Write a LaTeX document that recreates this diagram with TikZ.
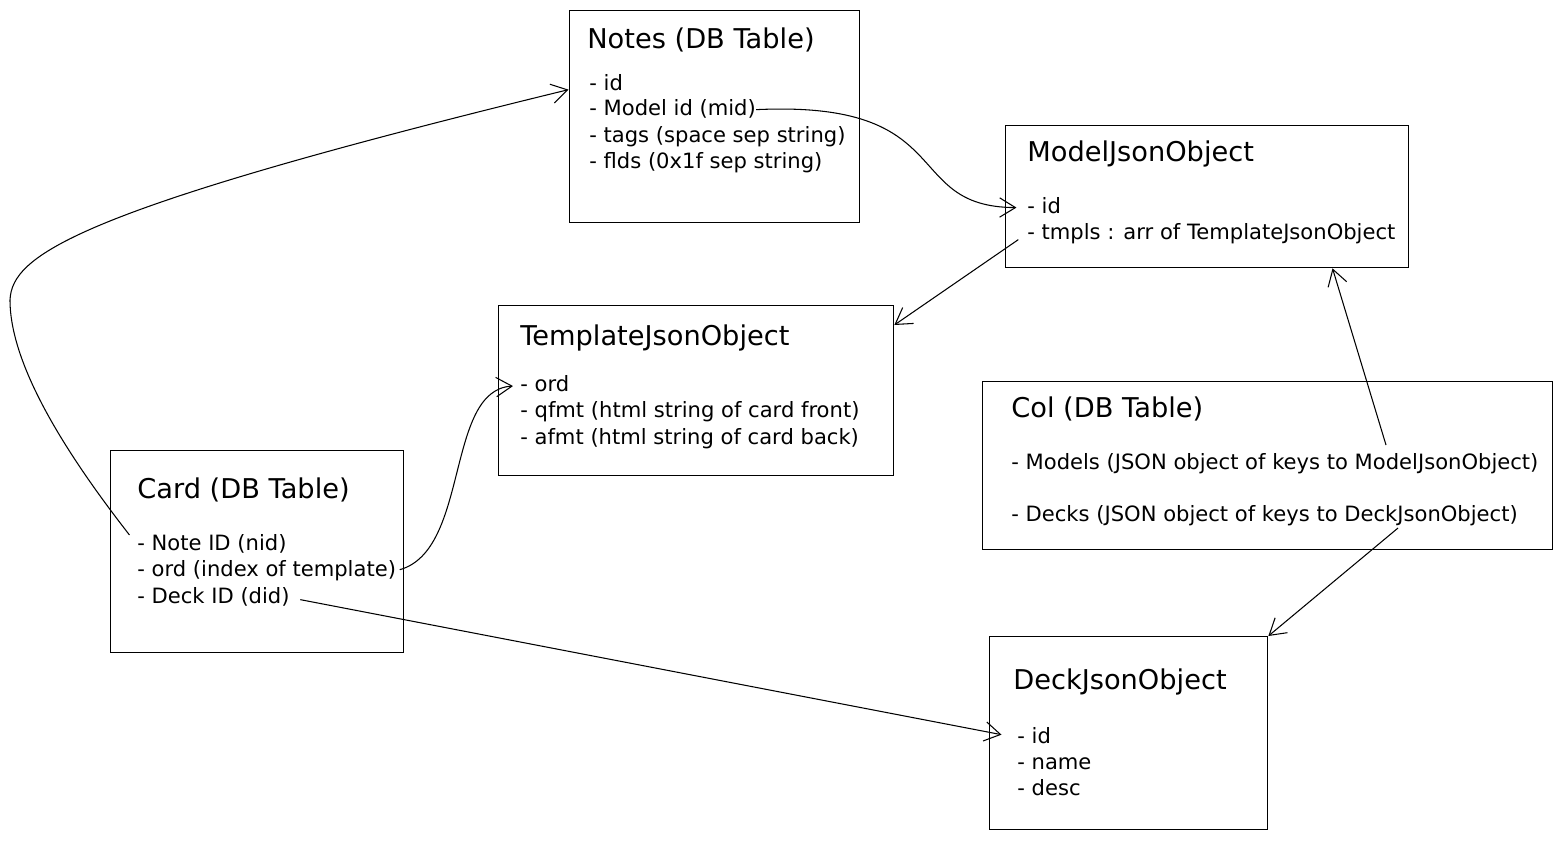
\documentclass[tikz,border=0pt]{standalone}
\usepackage{fontspec}
\setmainfont{DejaVu Sans}
\usepackage{tikz}
\usetikzlibrary{arrows.meta, calc}

\begin{document}
\begin{tikzpicture}[x=0.02cm, y=-0.02cm,
    box/.style={draw, line width=0.8pt, anchor=north west, inner sep=0},
    ttl/.style={anchor=west, inner sep=0, yshift=-1.2pt, font=\fontsize{15.5}{18}\selectfont},
    itm/.style={anchor=west, inner sep=0, yshift=-1.5pt, text height=9pt, text depth=2.5pt, font=\fontsize{12}{14}\selectfont},
    link/.style={-{Straight Barb[length=9pt, width=11pt]}, line width=0.6pt}]
    \useasboundingbox (0,0) rectangle (1561,840);

    % tables and json objects
    \node[box, minimum width=5.8cm, minimum height=4.24cm] (notes) at (569,10) {};
    \node[ttl] (notesT) at (587,38) {Notes (DB Table)};
    \node[itm] (nId) at (589,82) {- id};
    \node[itm] (nMid) at (589,107) {- Model id (mid)};
    \node[itm] (nTags) at (589,134) {- tags (space sep string)};
    \node[itm] (nFlds) at (589,160) {- flds (0x1f sep string)};

    \node[box, minimum width=8.06cm, minimum height=2.84cm] (model) at (1005,125) {};
    \node[ttl] (modelT) at (1027,152) {ModelJsonObject};
    \node[itm] (mId) at (1027,205) {- id};
    \node[itm] (mTmpls) at (1027,231) {- tmpls : arr of TemplateJsonObject};

    \node[box, minimum width=7.9cm, minimum height=3.4cm] (tmpl) at (498,305) {};
    \node[ttl] (tmplT) at (520,336) {TemplateJsonObject};
    \node[itm] (tOrd) at (520,383) {- ord};
    \node[itm] (tQfmt) at (520,409) {- qfmt (html string of card front)};
    \node[itm] (tAfmt) at (520,436) {- afmt (html string of card back)};

    \node[box, minimum width=5.86cm, minimum height=4.04cm] (card) at (110,450) {};
    \node[ttl] (cardT) at (137,488) {Card (DB Table)};
    \node[itm] (cNid) at (137,542) {- Note ID (nid)};
    \node[itm] (cOrd) at (137,568) {- ord (index of template)};
    \node[itm] (cDid) at (137,595) {- Deck ID (did)};

    \node[box, minimum width=11.4cm, minimum height=3.36cm] (col) at (982,381) {};
    \node[ttl] (colT) at (1011,407) {Col (DB Table)};
    \node[itm] (colModels) at (1011,461) {- Models (JSON object of keys to ModelJsonObject)};
    \node[itm] (colDecks) at (1011,513) {- Decks (JSON object of keys to DeckJsonObject)};

    \node[box, minimum width=5.56cm, minimum height=3.86cm] (deck) at (989,636) {};
    \node[ttl] (deckT) at (1013,680) {DeckJsonObject};
    \node[itm] (dId) at (1017,735) {- id};
    \node[itm] (dName) at (1017,761) {- name};
    \node[itm] (dDesc) at (1017,787) {- desc};

    \coordinate (colUp) at (1386,445);
    \coordinate (colDown) at (1398,528);

    % references
    \draw[link, shorten <=7pt, shorten >=12pt] (cNid.west) .. controls (75,465) and (10,370) .. (10,300)
        .. controls (12,255) and (75,210) .. (nId.west);
    \draw[link, shorten >=6pt] (nMid.east) .. controls (960,100) and (900,207) .. (mId.west);
    \draw[link, shorten <=6pt] (mTmpls.west) -- ($(tmpl.north east)+(0,20)$);
    \draw[link, shorten <=2pt, shorten >=4pt] (cOrd.east) .. controls (470,550) and (445,390) .. (tOrd.west);
    \draw[link, shorten <=6pt, shorten >=9pt] (cDid.east) -- (dId.west);
    \draw[link] (colUp) -- ($(model.south west)!0.81!(model.south east)$);
    \draw[link] (colDown) -- (deck.north east);
\end{tikzpicture}
\end{document}
